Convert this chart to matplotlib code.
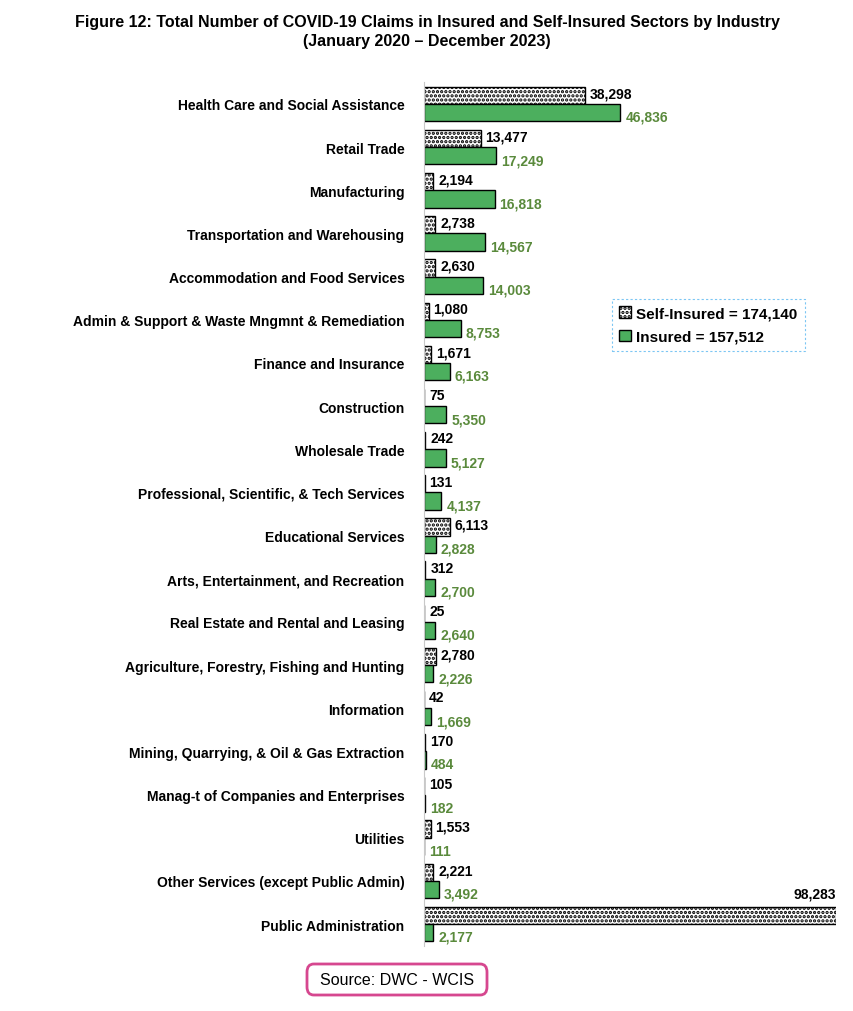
import numpy as np
import matplotlib.pyplot as plt
from matplotlib.patches import Patch, FancyBboxPatch

plt.rcParams['font.family'] = ['Liberation Sans', 'DejaVu Sans']
plt.rcParams['hatch.linewidth'] = 1.6

industries = ['Health Care and Social Assistance', 'Retail Trade', 'Manufacturing',
              'Transportation and Warehousing', 'Accommodation and Food Services',
              'Admin & Support & Waste Mngmnt & Remediation', 'Finance and Insurance',
              'Construction', 'Wholesale Trade', 'Professional, Scientific, & Tech Services',
              'Educational Services', 'Arts, Entertainment, and Recreation',
              'Real Estate and Rental and Leasing', 'Agriculture, Forestry, Fishing and Hunting',
              'Information', 'Mining, Quarrying, & Oil & Gas Extraction',
              'Manag-t of Companies and Enterprises', 'Utilities',
              'Other Services (except Public Admin)', 'Public Administration']
self_insured = [38298, 13477, 2194, 2738, 2630, 1080, 1671, 75, 242, 131,
                6113, 312, 25, 2780, 42, 170, 105, 1553, 2221, 98283]
insured = [46836, 17249, 16818, 14567, 14003, 8753, 6163, 5350, 5127, 4137,
           2828, 2700, 2640, 2226, 1669, 484, 182, 111, 3492, 2177]

green = '#4caf5e'
label_green = '#5a8a3c'

fig = plt.figure(figsize=(8.54, 10.12), dpi=100)
ax = fig.add_axes([0.4965, 0.0646, 0.4825, 0.853])
y = np.arange(len(industries))
h = 0.4
ax.barh(y - h / 2, self_insured, height=h, color='white', edgecolor='black',
        hatch='....', linewidth=1.0)
ax.barh(y + h / 2, insured, height=h, color=green, edgecolor='black', linewidth=1.0)

for i, (s, v) in enumerate(zip(self_insured, insured)):
    if i == len(industries) - 1:
        ax.text(s, i - h - 0.15, f'{s:,}', ha='right', va='bottom',
                fontsize=10, fontweight='bold')
    else:
        ax.text(s + 1200, i - h / 2 - 0.05, f'{s:,}', va='center',
                fontsize=10, fontweight='bold')
    ax.text(v + 1200, i + h / 2 + 0.1, f'{v:,}', va='center',
            fontsize=10, fontweight='bold', color=label_green)

ax.set_ylim(len(industries) - 0.5, -0.5)
ax.set_xlim(0, 98283)
ax.set_yticks(y)
ax.set_yticklabels(industries, fontsize=10, fontweight='bold')
ax.tick_params(axis='y', length=0, pad=14)
ax.set_xticks([])
for sp in ['top', 'right', 'bottom']:
    ax.spines[sp].set_visible(False)
ax.spines['left'].set_color('#c8c8c8')

handles = [Patch(facecolor='white', edgecolor='black', hatch='....', label='Self-Insured = 174,140'),
           Patch(facecolor=green, edgecolor='black', label='Insured = 157,512')]
leg = fig.legend(handles=handles, loc='upper left', bbox_to_anchor=(604 / 854, 1 - 292 / 1012),
                 frameon=True, fancybox=False, handlelength=0.8, handleheight=0.8,
                 handletextpad=0.3, borderpad=0.5, labelspacing=0.6,
                 prop={'size': 11, 'weight': 'bold'})
leg.get_frame().set_edgecolor('#5bb8f0')
leg.get_frame().set_linestyle((0, (2, 2)))
leg.get_frame().set_linewidth(0.8)

fig.text(0.5, 0.985, 'Figure 12: Total Number of COVID-19 Claims in Insured and Self-Insured Sectors by Industry\n(January 2020 \u2013 December 2023)',
         ha='center', va='top', fontsize=11.5, fontweight='bold', linespacing=1.3)

box = FancyBboxPatch((307 / 854, 1 - 996 / 1012), 180 / 854, 31 / 1012,
                     boxstyle='round,pad=0,rounding_size=0.008', transform=fig.transFigure,
                     facecolor='white', edgecolor='#d6478f', linewidth=2)
fig.patches.append(box)
fig.text(397 / 854, 1 - 981 / 1012, 'Source: DWC - WCIS', ha='center', va='center', fontsize=11.5)

fig.savefig('out.png', dpi=100)
